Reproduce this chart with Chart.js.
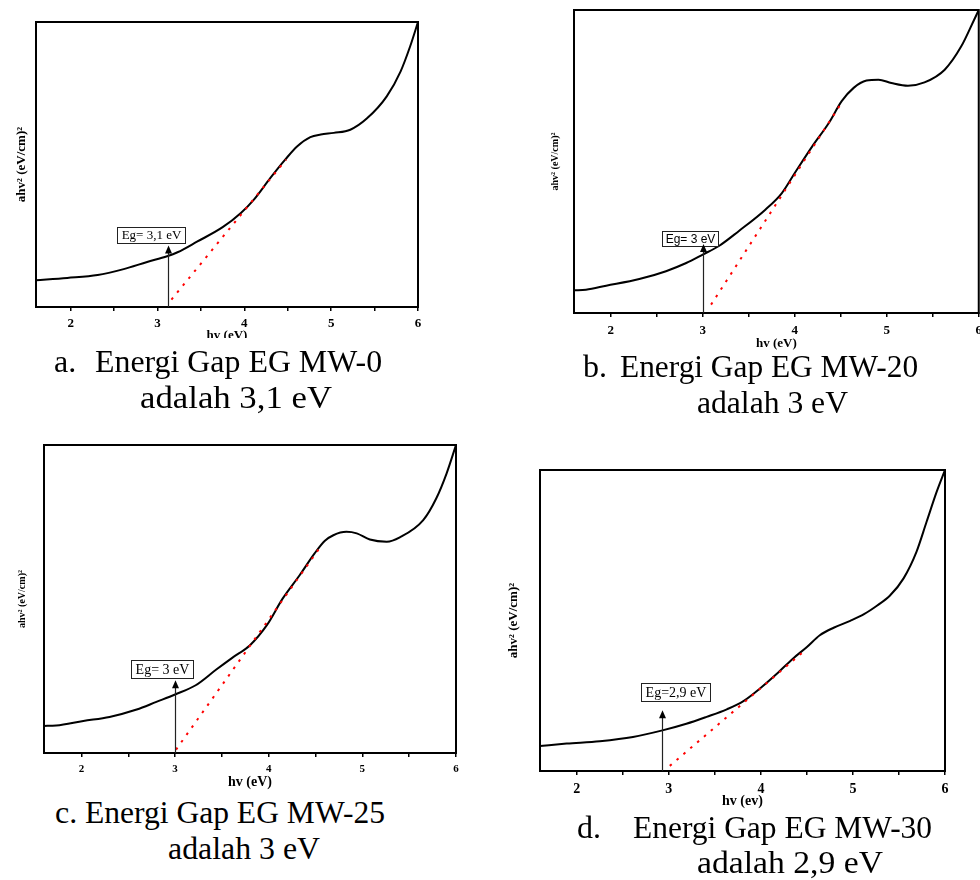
<!DOCTYPE html>
<html>
<head>
<meta charset="utf-8">
<script src="https://cdn.jsdelivr.net/npm/chart.js@4.4.1/dist/chart.umd.min.js"></script>
<style>
  html, body { margin: 0; padding: 0; background: #fff; width: 980px; height: 880px; overflow: hidden; position: relative; }
  canvas { position: absolute; }
  .cap { position: absolute; font-family: "Liberation Serif", "Times New Roman", serif; font-size: 32px; line-height: 32px;
         color: #000; white-space: pre; transform-origin: left top; z-index: 3; }
  .cover { position: absolute; background: #fff; z-index: 2; }
</style>
</head>
<body>
<canvas id="panelA" width="430" height="345" style="left:0px;top:0px"></canvas>
<canvas id="panelB" width="448" height="352" style="left:540px;top:0px"></canvas>
<canvas id="panelC" width="470" height="362" style="left:0px;top:430px"></canvas>
<canvas id="panelD" width="470" height="355" style="left:500px;top:455px"></canvas>
<div class="cover" style="left:150px;top:338px;width:120px;height:10px"></div>
<div class="cover" style="left:640px;top:347px;width:110px;height:10px"></div>

<script>
// nilai (sumbu y dalam satuan relatif 0-100)
const xTicks = [2, 2.5, 3, 3.5, 4, 4.5, 5, 5.5, 6];

// a. MW-0
const energyA = [1.6, 1.96, 2.31, 2.61, 2.88, 3.11, 3.23, 3.46, 3.75, 3.96, 4.11, 4.30, 4.47, 4.61, 4.76, 4.88, 5.03, 5.22, 5.41, 5.64, 5.80, 5.91, 6.0];
const absorbA = [9.4, 10.2, 11.2, 13.3, 15.8, 17.8, 19.2, 23.0, 28.0, 33.0, 37.7, 45.3, 51.7, 56.4, 59.6, 60.5, 61.1, 62.2, 66.1, 73.9, 82.7, 91.5, 100];
const fitXA = [3.16, 4.48];
const fitYA = [2.6, 51.7];

// b. MW-20
const energyB = [1.6, 1.73, 1.95, 2.31, 2.60, 2.82, 3.0, 3.18, 3.39, 3.68, 3.86, 4.00, 4.19, 4.37, 4.51, 4.64, 4.78, 4.91, 5.05, 5.23, 5.41, 5.63, 5.81, 5.95, 6.0];
const absorbB = [7.5, 7.7, 9.0, 11.2, 13.8, 16.5, 19.3, 22.2, 27.0, 34.1, 39.6, 46.2, 55.0, 62.7, 69.9, 74.3, 76.7, 77.0, 75.9, 75.0, 76.1, 80.3, 88.0, 96.8, 100];
const fitXB = [3.09, 4.52];
const fitYB = [2.75, 69.9];

// c. MW-25
const energyC = [1.6, 1.73, 2.02, 2.30, 2.59, 2.80, 3.0, 3.22, 3.44, 3.61, 3.80, 3.98, 4.15, 4.33, 4.49, 4.60, 4.69, 4.83, 4.94, 5.08, 5.26, 5.40, 5.65, 5.79, 5.90, 6.0];
const absorbC = [8.8, 8.9, 10.4, 11.7, 14.1, 16.6, 19.0, 22.0, 27.1, 30.9, 35.0, 41.5, 50.2, 57.7, 64.8, 68.9, 70.7, 71.8, 71.3, 69.3, 68.6, 70.0, 75.6, 82.7, 90.8, 100];
const fitXC = [3.01, 4.54];
const fitYC = [1.1, 66.4];

// d. MW-30
const energyD = [1.6, 1.89, 2.25, 2.61, 2.93, 3.19, 3.41, 3.63, 3.81, 3.99, 4.17, 4.35, 4.50, 4.64, 4.79, 4.97, 5.12, 5.26, 5.40, 5.55, 5.69, 5.80, 5.91, 6.0];
const absorbD = [8.3, 9.1, 9.9, 11.3, 13.5, 15.7, 18.0, 20.5, 23.2, 27.4, 32.2, 37.4, 41.2, 45.1, 47.6, 49.9, 52.1, 54.9, 58.2, 64.0, 72.8, 82.8, 92.8, 100];
const fitXD = [3.01, 4.46];
const fitYD = [1.7, 39.6];

// energi gap (posisi panah) dan ujung panah
const gapValues = [3.12, 3.0, 3.0, 2.93];
const arrowTips = [21.6, 22.8, 23.6, 20.2];
const gapLabels = ['Eg= 3,1 eV', 'Eg= 3 eV', 'Eg= 3 eV', 'Eg=2,9 eV'];

const serif = '"Liberation Serif", "Times New Roman", serif';
const sans = '"Liberation Sans", Arial, sans-serif';

// plugin: bingkai, panah dan kotak label Eg
const gapNote = {
  id: 'gapNote',
  afterDatasetsDraw(chart, args, o) {
    const { ctx, chartArea: ca, scales: { x, y } } = chart;
    ctx.save();
    ctx.strokeStyle = '#000';
    ctx.lineWidth = 2;
    ctx.strokeRect(ca.left, ca.top, ca.right - ca.left, ca.bottom - ca.top);

    // kotak label
    ctx.font = o.font;
    const w = Math.round(ctx.measureText(o.text).width + 2 * o.padX);
    const h = o.boxH;
    const cx = x.getPixelForValue(o.lx), cy = y.getPixelForValue(o.ly);
    const bx = Math.round(cx - w / 2), by = Math.round(cy - h / 2);
    ctx.fillStyle = '#fff';
    ctx.fillRect(bx, by, w, h);
    ctx.lineWidth = 1;
    ctx.strokeStyle = '#222';
    ctx.strokeRect(bx + 0.5, by + 0.5, w, h);
    ctx.fillStyle = '#000';
    ctx.textAlign = 'center';
    ctx.textBaseline = 'middle';
    ctx.fillText(o.text, bx + w / 2 + 0.5, by + h / 2 + 1);

    // panah
    const ax = Math.round(x.getPixelForValue(o.eg)) + 0.5;
    const ay = y.getPixelForValue(o.tip);
    ctx.lineWidth = 1.2;
    ctx.beginPath();
    ctx.moveTo(ax, ca.bottom);
    ctx.lineTo(ax, ay + 6);
    ctx.stroke();
    ctx.beginPath();
    ctx.moveTo(ax, ay);
    ctx.lineTo(ax - 3.5, ay + 8);
    ctx.lineTo(ax + 3.5, ay + 8);
    ctx.closePath();
    ctx.fill();
    ctx.restore();
  }
};

function drawPanel(id, cfg) {
  new Chart(document.getElementById(id), {
    type: 'line',
    data: {
      datasets: [
        {
          data: cfg.fitX.map((v, i) => ({ x: v, y: cfg.fitY[i] })),
          borderColor: '#ff0000', borderWidth: 2, borderDash: [2.5, 6.5],
          pointRadius: 0, tension: 0
        },
        {
          data: cfg.energy.map((v, i) => ({ x: v, y: cfg.absorb[i] })),
          borderColor: '#000', borderWidth: 2, pointRadius: 0,
          cubicInterpolationMode: 'monotone'
        }
      ]
    },
    options: {
      responsive: false,
      animation: false,
      events: [],
      layout: { padding: cfg.pad },
      plugins: { legend: { display: false }, tooltip: { enabled: false }, gapNote: cfg.note },
      scales: {
        x: {
          type: 'linear', min: 1.6, max: 6,
          afterBuildTicks: s => { s.ticks = xTicks.map(v => ({ value: v })); },
          afterFit: s => { s.height = cfg.xH; },
          ticks: {
            autoSkip: false, maxRotation: 0, padding: cfg.tickPad, color: '#000',
            font: { family: serif, weight: 'bold', size: cfg.tickSize },
            callback: v => Number.isInteger(v) ? String(v) : ''
          },
          grid: { drawOnChartArea: false, drawTicks: true, tickLength: 4, color: '#000', lineWidth: 1.5 },
          border: { display: true, color: '#000', width: 2 },
          title: {
            display: true, text: cfg.xTitle, color: '#000',
            font: { family: serif, weight: 'bold', size: cfg.xTitleSize },
            padding: { top: 0, bottom: cfg.xTitlePad }
          }
        },
        y: {
          min: 0, max: 100,
          ticks: { display: false },
          grid: { display: false },
          border: { display: true, color: '#000', width: 2 },
          afterFit: s => { s.width = cfg.yW; },
          title: {
            display: true, text: 'ahv\u00B2 (eV/cm)\u00B2', color: '#000',
            font: { family: serif, weight: 'bold', size: cfg.yTitleSize },
            padding: { top: cfg.yTitlePad, bottom: 0 }
          }
        }
      }
    },
    plugins: [gapNote]
  });
}

drawPanel('panelA', {
  energy: energyA, absorb: absorbA, fitX: fitXA, fitY: fitYA,
  pad: { left: 0, top: 22, right: 12, bottom: 0 }, xH: 38, yW: 36,
  tickSize: 13, tickPad: 5, xTitle: 'hv (eV)', xTitleSize: 13, xTitlePad: 2,
  yTitleSize: 13, yTitlePad: 14,
  note: { eg: gapValues[0], tip: arrowTips[0], text: gapLabels[0], lx: 2.93, ly: 25.3, font: '13px ' + serif, padX: 4, boxH: 16 }
});

drawPanel('panelB', {
  energy: energyB, absorb: absorbB, fitX: fitXB, fitY: fitYB,
  pad: { left: 0, top: 10, right: 6, bottom: 0 }, xH: 39, yW: 34,
  tickSize: 13, tickPad: 6, xTitle: 'hv (eV)', xTitleSize: 13, xTitlePad: 1,
  yTitleSize: 10, yTitlePad: 9,
  note: { eg: gapValues[1], tip: arrowTips[1], text: gapLabels[1], lx: 2.86, ly: 24.5, font: '12px ' + sans, padX: 3, boxH: 15 }
});

drawPanel('panelC', {
  energy: energyC, absorb: absorbC, fitX: fitXC, fitY: fitYC,
  pad: { left: 0, top: 15, right: 14, bottom: 0 }, xH: 39, yW: 44,
  tickSize: 11, tickPad: 6, xTitle: 'hv (eV)', xTitleSize: 14, xTitlePad: 1,
  yTitleSize: 10, yTitlePad: 16,
  note: { eg: gapValues[2], tip: arrowTips[2], text: gapLabels[2], lx: 2.86, ly: 27.2, font: '14px ' + serif, padX: 4, boxH: 18 }
});

drawPanel('panelD', {
  energy: energyD, absorb: absorbD, fitX: fitXD, fitY: fitYD,
  pad: { left: 0, top: 15, right: 25, bottom: 0 }, xH: 39, yW: 40,
  tickSize: 14, tickPad: 6, xTitle: 'hv (ev)', xTitleSize: 14, xTitlePad: 0,
  yTitleSize: 13, yTitlePad: 6,
  note: { eg: gapValues[3], tip: arrowTips[3], text: gapLabels[3], lx: 3.07, ly: 26.3, font: '14px ' + serif, padX: 4, boxH: 18 }
});

// keterangan gambar: [teks, kiri, baseline, lebar target]
const captions = [
  ['a.', 54, 372, 0], ['Energi Gap EG MW-0', 95, 372, 287], ['adalah 3,1 eV', 140, 408, 192],
  ['b.', 583, 377, 0], ['Energi Gap EG MW-20', 620, 377, 298], ['adalah 3 eV', 697, 413, 151],
  ['c.', 55, 823, 0], ['Energi Gap EG MW-25', 85, 823, 300], ['adalah 3 eV', 168, 859, 152],
  ['d.', 577, 838, 0], ['Energi Gap EG MW-30', 633, 838, 299], ['adalah 2,9 eV', 697, 873, 186]
];
captions.forEach(([text, left, base, target]) => {
  const el = document.createElement('div');
  el.className = 'cap';
  el.textContent = text;
  el.style.left = left + 'px';
  el.style.top = (base - 27) + 'px';
  document.body.appendChild(el);
  if (target) {
    const w = el.getBoundingClientRect().width;
    el.style.transform = 'scaleX(' + (target / w).toFixed(3) + ')';
  }
});
</script>
</body>
</html>
